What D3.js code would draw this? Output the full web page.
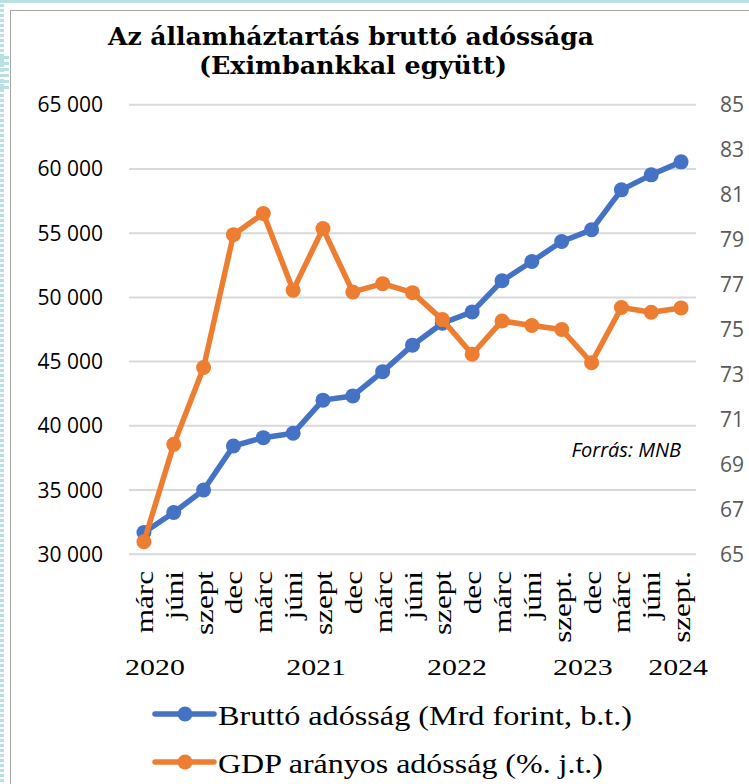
<!DOCTYPE html>
<html>
<head>
<meta charset="utf-8">
<script src="https://cdn.jsdelivr.net/npm/d3@7"></script>
<style>
html,body{margin:0;padding:0;background:#fff;}
svg{display:block;}
</style>
</head>
<body>
<svg id="chart" width="749" height="784"></svg>
<script>
// ---- data ----
const months = ["márc","júni","szept","dec","márc","júni","szept","dec","márc","júni","szept","dec","márc","júni","szept.","dec","márc","júni","szept."];
const grossDebt = [31700,33250,35000,38430,39080,39420,42000,42330,44220,46280,47990,48870,51290,52790,54350,55260,58370,59540,60550];
const gdpRatio = [65.56,69.89,73.31,79.22,80.16,76.75,79.49,76.67,77.04,76.64,75.44,73.9,75.38,75.18,75.0,73.52,75.98,75.77,75.96];
const years = ["2020","2021","2022","2023","2024"];
const yearAt = [0.37,5.77,10.49,14.71,17.9]; // position in category units
const leftTicks = [30000,35000,40000,45000,50000,55000,60000,65000];
const rightTicks = [65,67,69,71,73,75,77,79,81,83,85];
const seriesNames = ["Bruttó adósság (Mrd forint, b.t.)","GDP arányos adósság (%. j.t.)"];
const titleLines = ["Az államháztartás bruttó adóssága","(Eximbankkal együtt)"];
const sourceNote = "Forrás: MNB";

const blue = "#4472C4", orange = "#ED7D31";
const svg = d3.select("#chart");

// decorations
svg.append("rect").attr("x",0).attr("y",0).attr("width",749).attr("height",3).attr("fill","#b9e1e4");
svg.append("line").attr("x1",2).attr("x2",2).attr("y1",4).attr("y2",784)
  .attr("stroke","#b9e1e4").attr("stroke-width",4).attr("stroke-dasharray","3,2");
for(let i=0;i<6;i++){
  svg.append("rect").attr("x",0).attr("y",56+i*6).attr("width",9).attr("height",3).attr("fill","#b9e1e4");
}
svg.append("rect").attr("x",10.5).attr("y",10.5).attr("width",800).attr("height",800)
  .attr("fill","#fff").attr("stroke","#a6a6a6").attr("stroke-width",1);

// scales
const idx = d3.range(months.length);
const x = d3.scalePoint().domain(idx).range([129,696]).padding(0.5);
const step = x.step();
const yL = d3.scaleLinear().domain([30000,65000]).range([554.3,104.7]);
const yR = d3.scaleLinear().domain([65,85]).range([554.3,104.7]);

// gridlines
svg.append("g").selectAll("line").data(leftTicks).join("line")
  .attr("x1",129).attr("x2",696).attr("y1",d=>yL(d)).attr("y2",d=>yL(d))
  .attr("stroke","#d9d9d9").attr("stroke-width",2);

// left axis labels
const fmt = d => d3.format(",")(d).replace(/,/g," ");
svg.append("g").selectAll("text").data(leftTicks).join("text")
  .attr("x",103).attr("y",d=>yL(d)).attr("dy","0.36em").attr("text-anchor","end")
  .attr("font-family","'Open Sans', sans-serif").attr("font-size",21).attr("fill","#000")
  .text(fmt);

// right axis labels
svg.append("g").selectAll("text").data(rightTicks).join("text")
  .attr("x",720).attr("y",d=>yR(d)).attr("dy","0.36em").attr("text-anchor","start")
  .attr("font-family","'Open Sans', sans-serif").attr("font-size",21).attr("fill","#595959")
  .text(d=>d);

// month labels
svg.append("g").selectAll("text").data(idx).join("text")
  .attr("transform",i=>`translate(${x(i)},571) rotate(-90) scale(1.2,1)`)
  .attr("x",0).attr("y",9).attr("text-anchor","end")
  .attr("font-family","'Liberation Serif', serif").attr("font-size",26).attr("fill","#000")
  .text(i=>months[i]);

// year labels
svg.append("g").selectAll("text").data(years).join("text")
  .attr("transform",(d,i)=>`translate(${x(0)+yearAt[i]*step},675) scale(1.3,1)`)
  .attr("text-anchor","middle")
  .attr("font-family","'Liberation Serif', serif").attr("font-size",23).attr("fill","#000")
  .text(d=>d);

// series
const series = [
  {vals: grossDebt, y: yL, color: blue},
  {vals: gdpRatio, y: yR, color: orange}
];
series.forEach(s=>{
  const line = d3.line().x((d,i)=>x(i)).y(d=>s.y(d));
  svg.append("path").datum(s.vals).attr("d",line).attr("fill","none")
    .attr("stroke",s.color).attr("stroke-width",5.5).attr("stroke-linejoin","round").attr("stroke-linecap","round");
  svg.append("g").selectAll("circle").data(s.vals).join("circle")
    .attr("cx",(d,i)=>x(i)).attr("cy",d=>s.y(d)).attr("r",7.5).attr("fill",s.color);
});

// source note
svg.append("text").attr("x",681).attr("y",457).attr("text-anchor","end")
  .attr("font-family","'Open Sans', sans-serif").attr("font-style","italic").attr("font-size",20)
  .attr("fill","#000").text(sourceNote);

// title
const titleY = [45,74], titleW = [486,308], titleX = [351,353];
titleLines.forEach((t,i)=>{
  svg.append("text").attr("x",titleX[i]).attr("y",titleY[i]).attr("text-anchor","middle")
    .attr("font-family","'DejaVu Serif', serif").attr("font-weight","bold").attr("font-size",24)
    .attr("textLength",titleW[i]).attr("lengthAdjust","spacingAndGlyphs")
    .attr("fill","#000").text(t);
});

// legend
const legY = [714,762], legW = [414,385];
seriesNames.forEach((name,i)=>{
  const c = i===0?blue:orange;
  const g = svg.append("g");
  g.append("line").attr("x1",155).attr("x2",214).attr("y1",legY[i]).attr("y2",legY[i])
    .attr("stroke",c).attr("stroke-width",5.5).attr("stroke-linecap","round");
  g.append("circle").attr("cx",185).attr("cy",legY[i]).attr("r",7.5).attr("fill",c);
  g.append("text").attr("x",218).attr("y",legY[i]+11)
    .attr("font-family","'Liberation Serif', serif").attr("font-size",27)
    .attr("textLength",legW[i]).attr("lengthAdjust","spacingAndGlyphs")
    .attr("fill","#000").text(name);
});
</script>
</body>
</html>
